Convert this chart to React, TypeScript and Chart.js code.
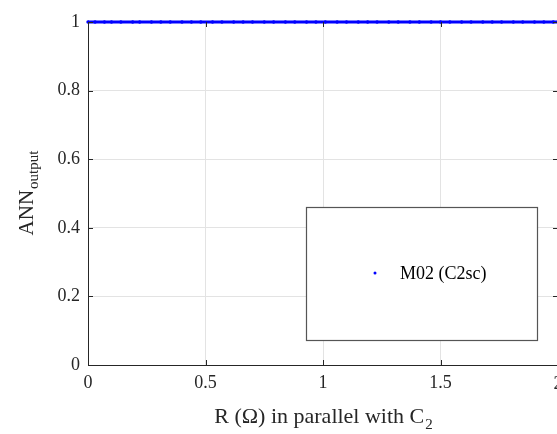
import React, { useEffect, useRef } from "react";
import { Chart, registerables } from "chart.js";

Chart.register(...registerables);

// x positions of the M02 (C2sc) samples (R in ohm) and their ANN output
const xValues: number[] = [
  0, 0.03, 0.07, 0.1, 0.14, 0.19, 0.22, 0.27, 0.31, 0.35, 0.4, 0.44, 0.48,
  0.53, 0.57, 0.62, 0.66, 0.7, 0.75, 0.79, 0.84, 0.88, 0.93, 0.97, 1.01, 1.06,
  1.1, 1.15, 1.19, 1.23, 1.28, 1.32, 1.37, 1.41, 1.46, 1.5, 1.54, 1.59, 1.63,
  1.68, 1.72, 1.76, 1.81, 1.85, 1.9, 1.94, 1.98, 2.0,
];
const yValues: number[] = [
  1, 1, 1, 1, 1, 1, 1, 1, 1, 1, 1, 1, 1, 1, 1, 1, 1, 1, 1, 1, 1, 1, 1, 1, 1, 1,
  1, 1, 1, 1, 1, 1, 1, 1, 1, 1, 1, 1, 1, 1, 1, 1, 1, 1, 1, 1, 1, 1,
];
const seriesLabel = "M02 (C2sc)";
const xTicks: number[] = [0, 0.5, 1, 1.5, 2];
const yTicks: number[] = [0, 0.2, 0.4, 0.6, 0.8, 1];
const xTitleMain = "R (Ω) in parallel with C";
const xTitleSub = "2";
const yTitleMain = "ANN";
const yTitleSub = "output";

const FONT = "'Liberation Serif', 'DejaVu Serif', serif";
const AXIS = "#262626";
const TICK_SIZE = 18;
const PAGE_W = 557;
const PAGE_H = 434;
const CANVAS_W = 565;

const overlay = {
  id: "overlay",
  afterDraw(chart: any) {
    const ctx = chart.ctx;
    const a = chart.chartArea;
    const xs = chart.scales.x;
    const ys = chart.scales.y;
    ctx.save();
    ctx.strokeStyle = AXIS;
    ctx.lineWidth = 1;
    // inward ticks
    ctx.beginPath();
    for (const t of xTicks) {
      const px = Math.round(xs.getPixelForValue(t)) + 0.5;
      ctx.moveTo(px, a.bottom);
      ctx.lineTo(px, a.bottom - 5);
      ctx.moveTo(px, a.top);
      ctx.lineTo(px, a.top + 5);
    }
    for (const t of yTicks) {
      const py = Math.round(ys.getPixelForValue(t)) + 0.5;
      ctx.moveTo(a.left, py);
      ctx.lineTo(a.left + 5, py);
      ctx.moveTo(a.right, py);
      ctx.lineTo(a.right - 5, py);
    }
    ctx.stroke();

    // last x tick label (partly outside the visible page, as in the original)
    const last = xTicks[xTicks.length - 1];
    ctx.fillStyle = AXIS;
    ctx.font = `${TICK_SIZE}px ${FONT}`;
    ctx.textAlign = "center";
    ctx.textBaseline = "top";
    ctx.fillText(String(last), xs.getPixelForValue(last), a.bottom + 10);

    // legend box
    ctx.fillStyle = "#ffffff";
    ctx.fillRect(306.5, 207.5, 231, 133);
    ctx.strokeStyle = "#555555";
    ctx.lineWidth = 1.2;
    ctx.strokeRect(306.5, 207.5, 231, 133);
    ctx.fillStyle = "#0000ff";
    ctx.beginPath();
    ctx.arc(375, 273, 1.5, 0, Math.PI * 2);
    ctx.fill();
    ctx.fillStyle = "#000000";
    ctx.font = `18px ${FONT}`;
    ctx.textAlign = "left";
    ctx.textBaseline = "alphabetic";
    ctx.fillText(seriesLabel, 400, 279);

    // x title
    ctx.fillStyle = AXIS;
    ctx.font = `22px ${FONT}`;
    const wMain = ctx.measureText(xTitleMain).width;
    ctx.font = `15px ${FONT}`;
    const wSub = ctx.measureText(xTitleSub).width;
    const cx = (a.left + a.right) / 2;
    const x0 = cx - (wMain + wSub) / 2;
    ctx.font = `22px ${FONT}`;
    ctx.fillText(xTitleMain, x0, 423);
    ctx.font = `15px ${FONT}`;
    ctx.fillText(xTitleSub, x0 + wMain + 1, 429);

    // y title
    ctx.font = `21px ${FONT}`;
    const yMain = ctx.measureText(yTitleMain).width;
    ctx.font = `15px ${FONT}`;
    const ySub = ctx.measureText(yTitleSub).width;
    const cy = (a.top + a.bottom) / 2;
    ctx.translate(33, cy);
    ctx.rotate(-Math.PI / 2);
    const s0 = -(yMain + ySub) / 2;
    ctx.font = `21px ${FONT}`;
    ctx.fillText(yTitleMain, s0, 0);
    ctx.font = `15px ${FONT}`;
    ctx.fillText(yTitleSub, s0 + yMain + 1, 5);
    ctx.restore();
  },
};

export default function App() {
  const ref = useRef<HTMLCanvasElement | null>(null);
  useEffect(() => {
    if (!ref.current) return;
    const chart = new Chart(ref.current, {
      type: "scatter",
      data: {
        datasets: [
          {
            label: seriesLabel,
            data: xValues.map((x, i) => ({ x, y: yValues[i] })),
            showLine: true,
            borderColor: "#0000ff",
            backgroundColor: "#0000ff",
            borderWidth: 3.2,
            pointRadius: 1.7,
            pointBorderWidth: 0,
            clip: false,
          },
        ],
      },
      options: {
        animation: false,
        responsive: false,
        events: [],
        layout: { padding: { top: 22, left: 0, right: 0, bottom: 0 } },
        plugins: {
          legend: { display: false },
          tooltip: { enabled: false },
        },
        scales: {
          x: {
            type: "linear",
            min: 0,
            max: 2,
            afterBuildTicks: (scale: any) => {
              scale.ticks = xTicks.map((v) => ({ value: v }));
            },
            ticks: {
              color: AXIS,
              font: { family: FONT, size: TICK_SIZE },
              padding: 7,
              maxRotation: 0,
              autoSkip: false,
              callback: (v: any) =>
                v === xTicks[xTicks.length - 1] ? "" : String(v),
            },
            grid: { color: "#e3e3e3", drawTicks: false, lineWidth: 1 },
            border: { color: AXIS, width: 1 },
            afterFit: (scale: any) => {
              scale.height = 69;
            },
          },
          y: {
            type: "linear",
            min: 0,
            max: 1,
            afterBuildTicks: (scale: any) => {
              scale.ticks = yTicks.map((v) => ({ value: v }));
            },
            ticks: {
              color: AXIS,
              font: { family: FONT, size: TICK_SIZE },
              padding: 8,
              autoSkip: false,
              callback: (v: any) => String(v),
            },
            grid: { color: "#e3e3e3", drawTicks: false, lineWidth: 1 },
            border: { color: AXIS, width: 1 },
            afterFit: (scale: any) => {
              scale.width = 88;
            },
          },
        },
      },
      plugins: [overlay],
    });
    return () => chart.destroy();
  }, []);
  return (
    <div
      style={{
        position: "absolute",
        left: 0,
        top: 0,
        width: PAGE_W,
        height: PAGE_H,
        overflow: "hidden",
        background: "#fff",
      }}
    >
      <canvas ref={ref} width={CANVAS_W} height={PAGE_H} style={{ display: "block" }} />
    </div>
  );
}
